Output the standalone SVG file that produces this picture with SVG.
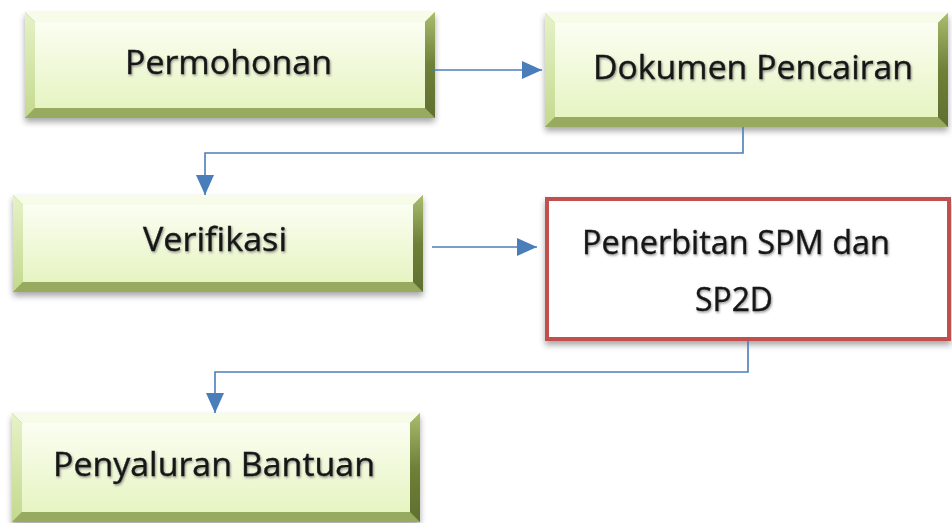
<svg xmlns="http://www.w3.org/2000/svg" width="952" height="523" viewBox="0 0 952 523">
  <defs>
    <linearGradient id="faceGrad" x1="0" y1="0" x2="0" y2="1">
      <stop offset="0" stop-color="#fbfef2"/>
      <stop offset="1" stop-color="#e6f4c2"/>
    </linearGradient>
    <linearGradient id="leftGrad" x1="0" y1="0" x2="0" y2="1">
      <stop offset="0" stop-color="#e6f2c6"/>
      <stop offset="1" stop-color="#c4d98e"/>
    </linearGradient>
    <linearGradient id="rightGrad" x1="0" y1="0" x2="0" y2="1">
      <stop offset="0" stop-color="#a9bc6e"/>
      <stop offset="0.5" stop-color="#6f8038"/>
      <stop offset="1" stop-color="#5f6f30"/>
    </linearGradient>
    <filter id="boxShadow" x="-5%" y="-10%" width="110%" height="130%">
      <feDropShadow dx="0" dy="4" stdDeviation="3" flood-color="#000" flood-opacity="0.35"/>
    </filter>
    <filter id="textShadow" x="-5%" y="-20%" width="110%" height="150%">
      <feDropShadow dx="1" dy="1.5" stdDeviation="1.2" flood-color="#555" flood-opacity="0.6"/>
    </filter>
    <marker id="arrow" markerUnits="userSpaceOnUse" markerWidth="20" markerHeight="18" refX="20" refY="9" orient="auto">
      <path d="M0,0 L20,9 L0,18 Z" fill="#4a7ebb"/>
    </marker>
  </defs>
  <style>
    .outer { fill: #9bbb59; }
    .top { fill: #f7fce8; }
    .left { fill: url(#leftGrad); }
    .bottom { fill: #98aa5f; }
    .right { fill: url(#rightGrad); }
    .face { fill: url(#faceGrad); }
    .label { font-family: "Open Sans", "Liberation Sans", sans-serif; font-size: 33px; fill: #161616; stroke: #161616; stroke-width: 0.4; filter: url(#textShadow); }
    .conn { fill: none; stroke: #4a7ebb; stroke-width: 1.6; }
    .redbox { fill: #ffffff; stroke: #c0504d; stroke-width: 4; }
  </style>
  <rect width="952" height="523" fill="#ffffff"/>

  <g id="node-permohonan">
    <g filter="url(#boxShadow)"><rect class="outer" x="25" y="12" width="410" height="106"/></g>
    <polygon class="top" points="25,12 435,12 425,22 35,22"/>
    <polygon class="left" points="25,12 35,22 35,108 25,118"/>
    <polygon class="bottom" points="25,118 35,108 425,108 435,118"/>
    <polygon class="right" points="435,12 435,118 425,108 425,22"/>
    <rect class="face" x="35" y="22" width="390" height="86"/>
    <text class="label" x="125" y="74" textLength="207" lengthAdjust="spacingAndGlyphs">Permohonan</text>
  </g>

  <g id="node-dokumen">
    <g filter="url(#boxShadow)"><rect class="outer" x="545" y="13" width="403" height="114"/></g>
    <polygon class="top" points="545,13 948,13 938,23 555,23"/>
    <polygon class="left" points="545,13 555,23 555,117 545,127"/>
    <polygon class="bottom" points="545,127 555,117 938,117 948,127"/>
    <polygon class="right" points="948,13 948,127 938,117 938,23"/>
    <rect class="face" x="555" y="23" width="383" height="94"/>
    <text class="label" x="593" y="79" textLength="320" lengthAdjust="spacingAndGlyphs">Dokumen Pencairan</text>
  </g>

  <g id="node-verifikasi">
    <g filter="url(#boxShadow)"><rect class="outer" x="13" y="195" width="410" height="97"/></g>
    <polygon class="top" points="13,195 423,195 413,205 23,205"/>
    <polygon class="left" points="13,195 23,205 23,282 13,292"/>
    <polygon class="bottom" points="13,292 23,282 413,282 423,292"/>
    <polygon class="right" points="423,195 423,292 413,282 413,205"/>
    <rect class="face" x="23" y="205" width="390" height="77"/>
    <text class="label" x="143" y="251" textLength="144" lengthAdjust="spacingAndGlyphs">Verifikasi</text>
  </g>

  <g id="node-penerbitan">
    <rect class="redbox" x="547" y="199" width="402" height="140" filter="url(#boxShadow)"/>
    <text class="label" x="582" y="254" textLength="308" lengthAdjust="spacingAndGlyphs">Penerbitan  SPM dan</text>
    <text class="label" x="695" y="311" textLength="78" lengthAdjust="spacingAndGlyphs">SP2D</text>
  </g>

  <g id="node-penyaluran">
    <g filter="url(#boxShadow)"><rect class="outer" x="12" y="413" width="408" height="109"/></g>
    <polygon class="top" points="12,413 420,413 410,423 22,423"/>
    <polygon class="left" points="12,413 22,423 22,512 12,522"/>
    <polygon class="bottom" points="12,522 22,512 410,512 420,522"/>
    <polygon class="right" points="420,413 420,522 410,512 410,423"/>
    <rect class="face" x="22" y="423" width="388" height="89"/>
    <text class="label" x="53" y="476" textLength="322" lengthAdjust="spacingAndGlyphs">Penyaluran Bantuan</text>
  </g>

  <g id="connectors">
    <path class="conn" d="M432,70 H542" marker-end="url(#arrow)"/>
    <path class="conn" d="M743,127 V153 H205 V195" marker-end="url(#arrow)"/>
    <path class="conn" d="M432,247 H537" marker-end="url(#arrow)"/>
    <path class="conn" d="M748,341 V372 H215 V413" marker-end="url(#arrow)"/>
  </g>
</svg>
